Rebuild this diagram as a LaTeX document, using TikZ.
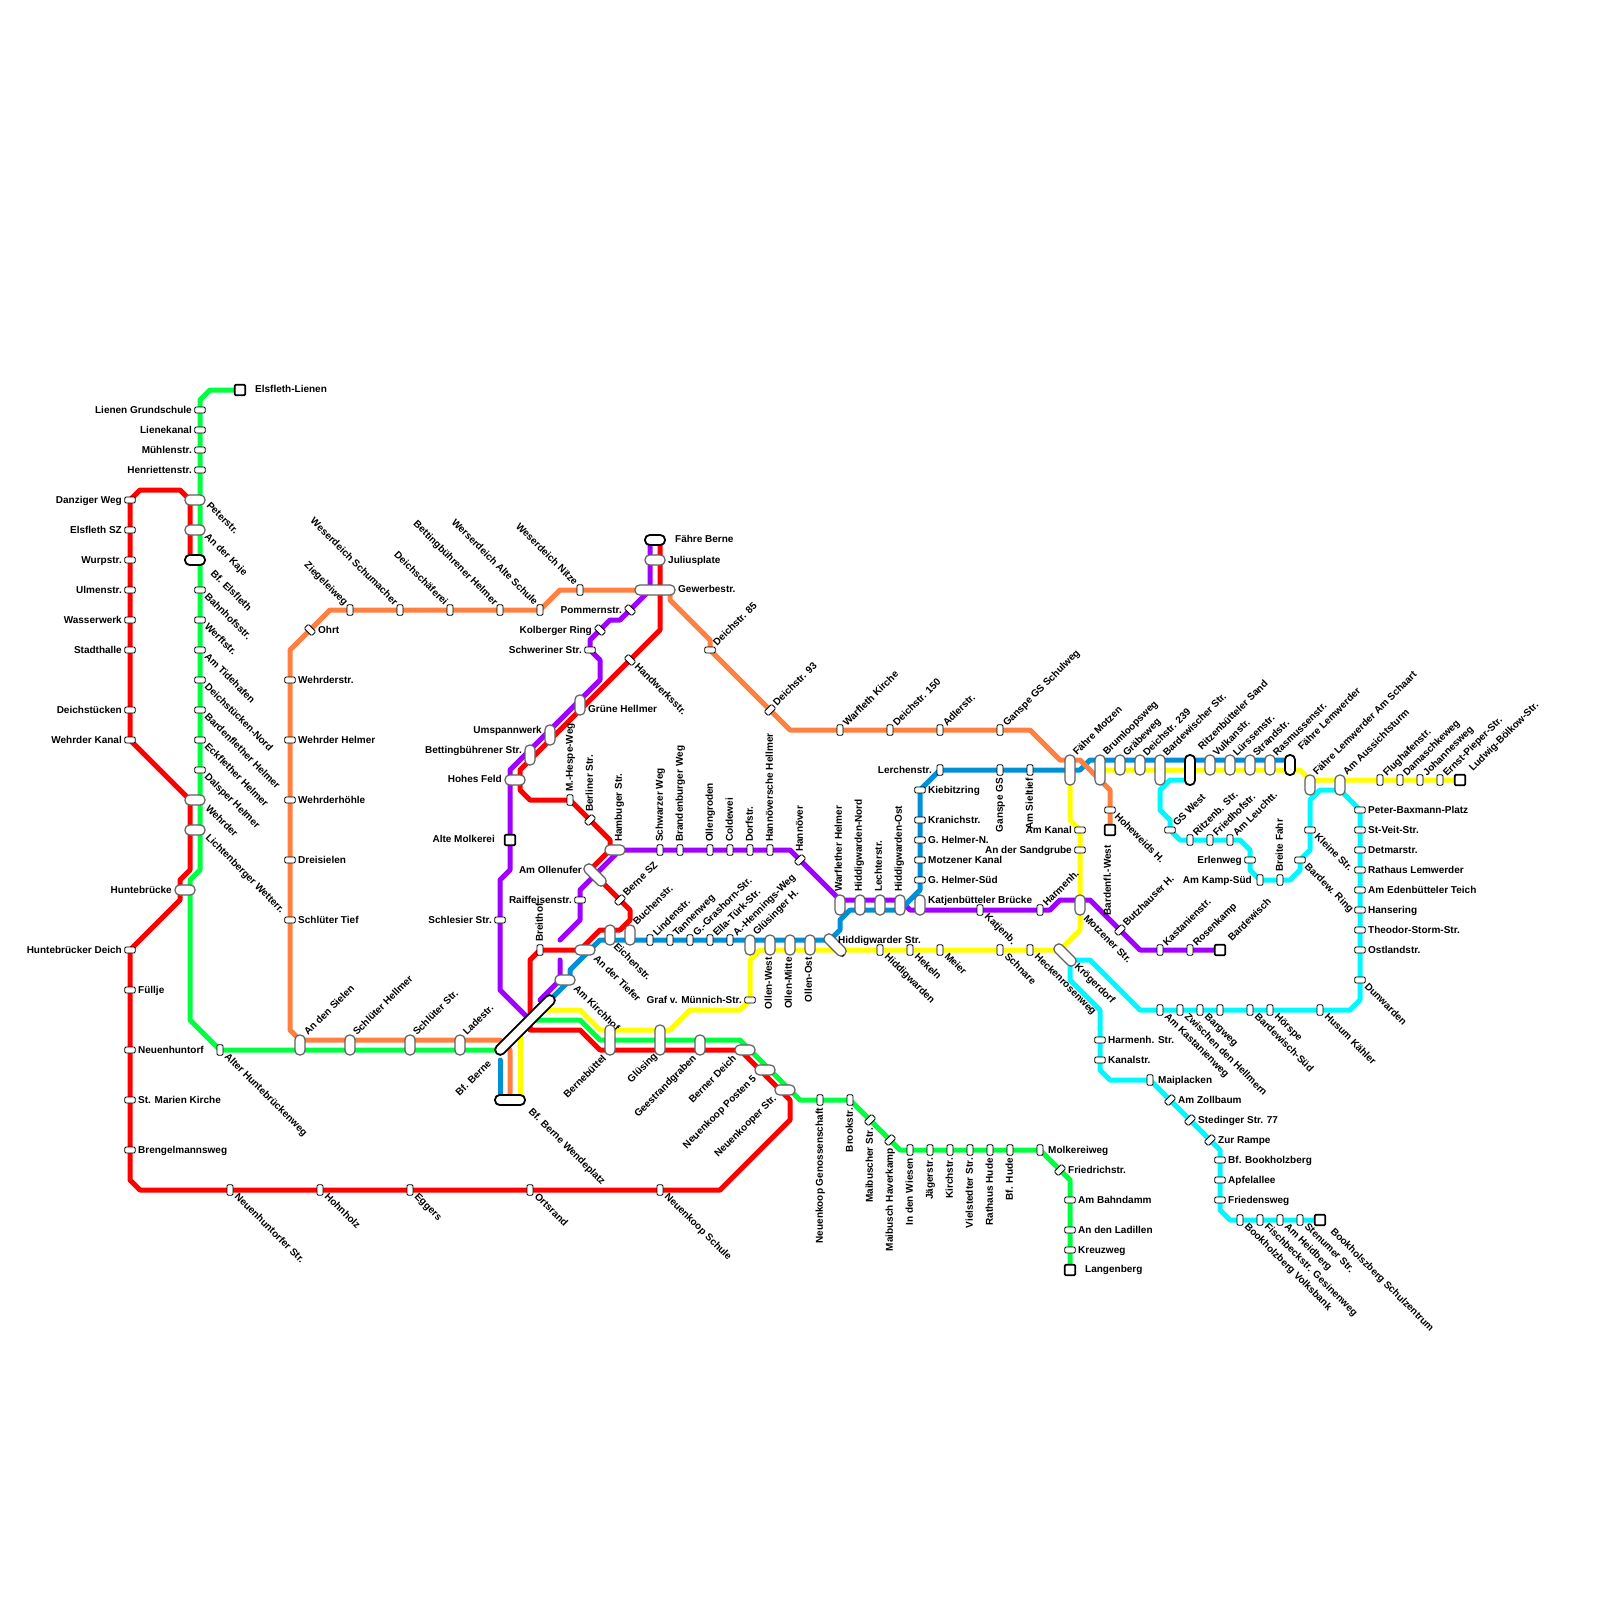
\documentclass[tikz,border=0pt]{standalone}
\usepackage{fontspec}
\setmainfont{Liberation Sans}
\usetikzlibrary{backgrounds}
\definecolor{cRed}{HTML}{FF0000}
\definecolor{cGreen}{HTML}{00FF40}
\definecolor{cOrange}{HTML}{FF8040}
\definecolor{cPurple}{HTML}{A000FF}
\definecolor{cBlue}{HTML}{0090D8}
\definecolor{cYellow}{HTML}{FFFF00}
\definecolor{cCyan}{HTML}{00F8FF}
\definecolor{cEdge}{HTML}{606060}
\tikzset{
  lab/.style={inner sep=0pt,text height=7.5pt,text depth=2pt,text=black,font=\fontsize{10}{12}\selectfont\bfseries},
  lR/.style={lab,shift={(8,0.5)},anchor=west},
  lL/.style={lab,shift={(-8,0.5)},anchor=east},
  lD/.style={lab,shift={(6,5)},anchor=west,rotate=-45},
  lU/.style={lab,shift={(5,-5)},anchor=west,rotate=45},
  lUL/.style={lab,shift={(-4,-6)},anchor=east,rotate=-45},
  lDL/.style={lab,shift={(-5,7)},anchor=east,rotate=45},
  lN/.style={lab,shift={(0,-8)},anchor=west,rotate=90},
  lS/.style={lab,shift={(0,8)},anchor=east,rotate=90},
  sbase/.style={rectangle,fill=white,draw=black,line width=0.9pt,inner sep=0pt,outer sep=0pt},
  hs/.style={sbase,minimum width=10.5pt,minimum height=6pt,rounded corners=1.2pt},
  vs/.style={sbase,minimum width=6pt,minimum height=10.5pt,rounded corners=1.2pt},
  ds/.style={hs,rotate=-45},
  df/.style={hs,rotate=45},
  big/.style={sbase,draw=cEdge,line width=1.2pt,rounded corners=4.6pt},
  bigH/.style={big,minimum width=20pt,minimum height=10pt},
  bigV/.style={big,minimum width=10pt,minimum height=20pt},
  bigVL/.style={big,minimum width=10pt,minimum height=30pt},
  bigD/.style={big,minimum width=27pt,minimum height=10pt,rotate=-45},
  tm/.style={draw=black,line width=1.8pt},
  endsq/.style={sbase,draw=black,line width=1.8pt,minimum width=10.5pt,minimum height=10.5pt,rounded corners=1.2pt},
  route/.style={line width=5pt,line cap=round,line join=round},
}
\newcommand{\st}[7][0,0]{\node[#3] (#2) at (#4,#5) {}; \node[shift={(#1)},#6] (#2-l) at (#4,#5) {#7};}
\begin{document}
\begin{tikzpicture}[x=1pt,y=-1pt]
\useasboundingbox (0,0) rectangle (1600,1600);
% west red
\st{danz}{hs}{130}{500}{lL}{Danziger Weg}
\st{elssz}{hs}{130}{530}{lL}{Elsfleth SZ}
\st{wurp}{hs}{130}{560}{lL}{Wurpstr.}
\st{ulmen}{hs}{130}{590}{lL}{Ulmenstr.}
\st{wasser}{hs}{130}{620}{lL}{Wasserwerk}
\st{stadth}{hs}{130}{650}{lL}{Stadthalle}
\st{deichst}{hs}{130}{710}{lL}{Deichstücken}
\st{wkanal}{hs}{130}{740}{lL}{Wehrder Kanal}
\st{hdeich}{hs}{130}{950}{lL}{Huntebrücker Deich}
\st{fuellje}{hs}{130}{990}{lR}{Füllje}
\st{neuh}{hs}{130}{1050}{lR}{Neuenhuntorf}
\st{marien}{hs}{130}{1100}{lR}{St. Marien Kirche}
\st{breng}{hs}{130}{1150}{lR}{Brengelmannsweg}
\st{neuhs}{vs}{230}{1190}{lD}{Neuenhuntorfer Str.}
\st{hohn}{vs}{320}{1190}{lD}{Hohnholz}
\st{eggers}{vs}{410}{1190}{lD}{Eggers}
\st{ortsr}{vs}{530}{1190}{lD}{Ortsrand}
\st{nkschule}{vs}{660}{1190}{lD}{Neuenkoop Schule}
% west green
\st[7,-1]{elsli}{endsq}{240}{390}{lR}{Elsfleth-Lienen}
\st{lieng}{hs}{200}{410}{lL}{Lienen Grundschule}
\st{lienk}{hs}{200}{430}{lL}{Lienekanal}
\st{muehl}{hs}{200}{450}{lL}{Mühlenstr.}
\st{henr}{hs}{200}{470}{lL}{Henriettenstr.}
\st[7,-1]{peter}{bigH}{195}{500}{lD}{Peterstr.}
\st[5,0]{kaje}{bigH}{195}{530}{lD}{An der Kaje}
\st[11,7]{bfels}{bigH,tm}{195}{560}{lD}{Bf. Elsfleth}
\st{bahnh}{hs}{200}{590}{lD}{Bahnhofsstr.}
\st{werft}{hs}{200}{620}{lD}{Werftstr.}
\st{tideh}{hs}{200}{650}{lD}{Am Tidehafen}
\st{dnord}{hs}{200}{680}{lD}{Deichstücken-Nord}
\st{bardh}{hs}{200}{710}{lD}{Bardenflether Helmer}
\st{eckh}{hs}{200}{740}{lD}{Eckflether Helmer}
\st{dalsp}{hs}{200}{770}{lD}{Dalsper Helmer}
\st[6,2]{wehrder}{bigH}{195}{800}{lD}{Wehrder}
\st[6,1]{lichten}{bigH}{195}{830}{lD}{Lichtenberger Wetterr.}
\st[-5,0]{hunte}{bigH}{185}{890}{lL}{Huntebrücke}
\st{alterh}{vs}{220}{1050}{lD}{Alter Huntebrückenweg}
% orange west
\st{wehrs}{hs}{290}{680}{lR}{Wehrderstr.}
\st{wehrh}{hs}{290}{740}{lR}{Wehrder Helmer}
\st{wehrhoe}{hs}{290}{800}{lR}{Wehrderhöhle}
\st{dreis}{hs}{290}{860}{lR}{Dreisielen}
\st{schltief}{hs}{290}{920}{lR}{Schlüter Tief}
\st{ohrt}{ds}{310}{630}{lR}{Ohrt}
\st{zieg}{vs}{350}{610}{lUL}{Ziegeleiweg}
\st{wschum}{vs}{400}{610}{lUL}{Weserdeich Schumacher}
\st{dschaef}{vs}{450}{610}{lUL}{Deichschäferei}
\st{betthel}{vs}{500}{610}{lUL}{Bettingbührener Helmer}
\st{wealt}{vs}{540}{610}{lUL}{Werserdeich Alte Schule}
\st{wnitze}{vs}{580}{590}{lUL}{Weserdeich Nitze}
\st[1,-6]{sielen}{bigV}{300}{1045}{lU}{An den Sielen}
\st[0,-6]{schlhel}{bigV}{350}{1045}{lU}{Schlüter Hellmer}
\st[0,-6]{schlstr}{bigV}{410}{1045}{lU}{Schlüter Str.}
\st[0,-6]{ladestr}{bigV}{460}{1045}{lU}{Ladestr.}
% Berne hub
\st[-30,30]{bfberne}{big,tm,minimum width=80pt,minimum height=10pt,rotate=45}{525}{1025}{lDL}{Bf. Berne}
\st[14,5]{wende}{bigH,tm,minimum width=30pt}{510}{1100}{lD}{Bf. Berne Wendeplatz}
\coordinate (blueTop) at (500,1060);
\coordinate (yelTop) at (520,1030);
\coordinate (purpA) at (560,940);
\coordinate (purpB) at (560,960);
\coordinate (purpC) at (540,1000);
\coordinate (bbW) at (500,1050);
% north-centre
\st[12,-1]{fberne}{bigH,tm}{655}{540}{lR}{Fähre Berne}
\st[5,0]{julius}{bigH}{655}{560}{lR}{Juliusplate}
\st[15,-1]{gewerbe}{big,minimum width=40pt,minimum height=10pt}{655}{590}{lR}{Gewerbestr.}
\st{pomm}{ds}{630}{610}{lL}{Pommernstr.}
\st{kolb}{ds}{600}{630}{lL}{Kolberger Ring}
\st{schwer}{hs}{590}{650}{lL}{Schweriner Str.}
\st{handw}{ds}{630}{660}{lD}{Handwerksstr.}
\st[0,4]{gruene}{bigV}{580}{705}{lR}{Grüne Hellmer}
\st[0,-5]{umsp}{bigV}{550}{735}{lL}{Umspannwerk}
\st[0,-5]{bettstr}{bigV}{530}{755}{lL}{Bettingbührener Str.}
\st[-5,-1]{hohes}{bigH}{515}{780}{lL}{Hohes Feld}
\st[-7,-1]{altem}{endsq}{510}{840}{lL}{Alte Molkerei}
\st{hespe}{vs}{570}{800}{lN}{M.-Hespe-Weg}
\st{berl}{df}{590}{820}{lN}{Berliner Str.}
\st[4,0]{hamb}{bigH}{615}{850}{lN}{Hambuger Str.}
\st[-5,-5]{olluf}{bigD}{595}{875}{lL}{Am Ollenufer}
\st{bernesz}{df}{620}{900}{lU}{Berne SZ}
\st{raiff}{hs}{580}{900}{lL}{Raiffeisenstr.}
\st{schles}{hs}{500}{920}{lL}{Schlesier Str.}
\st{breith}{vs}{540}{950}{lN}{Breithof}
\st[4,2]{tiefer}{bigH}{585}{950}{lD}{An der Tiefer}
\st[4,2]{kirchh}{bigH}{565}{980}{lD}{Am Kirchhof}
\st[-1,5]{eichen}{bigV}{610}{935}{lD}{Eichenstr.}
\st[0,-6]{buchen}{bigV}{630}{935}{lU}{Buchenstr.}
\st{linden}{vs}{650}{940}{lU}{Lindenstr.}
\st{tannen}{vs}{670}{940}{lU}{Tannenweg}
\st{grash}{vs}{690}{940}{lU}{G.-Grashorn-Str.}
\st{ella}{vs}{710}{940}{lU}{Ella-Türk-Str.}
\st{henn}{vs}{730}{940}{lU}{A.-Hennings-Weg}
\st[0,-6]{gluesh}{bigV}{750}{945}{lU}{Glüsinger H.}
\st[-1,4]{ollw}{bigV}{770}{945}{lS}{Ollen-West}
\st[-1,4]{ollm}{bigV}{790}{945}{lS}{Ollen-Mitte}
\st[-1,4]{ollo}{bigV}{810}{945}{lS}{Ollen-Ost}
\st[-5,-5]{hiddstr}{bigD}{835}{945}{lR}{Hiddigwarder Str.}
\node[lab,rotate=-45] (komma) at (845,955) {,};
\st{gmuenn}{hs}{750}{1000}{lL}{Graf v. Münnich-Str.}
\st[0,10]{bernb}{bigVL}{610}{1040}{lDL}{Bernebüttel}
\st[1,8]{gluesing}{bigVL}{660}{1040}{lDL}{Glüsing}
\st[0,5]{geest}{bigV}{700}{1045}{lDL}{Geestrandgraben}
\st[-5,0]{bdeich}{bigH}{745}{1050}{lDL}{Berner Deich}
\st[-5,0]{posten}{bigH}{765}{1070}{lDL}{Neuenkoop Posten 5}
\st[-5,0]{nkstr}{bigH}{785}{1090}{lDL}{Neuenkooper Str.}
% purple east row
\st{schwarz}{vs}{660}{850}{lN}{Schwarzer Weg}
\st{brand}{vs}{680}{850}{lN}{Brandenburger Weg}
\st{ollgr}{vs}{710}{850}{lN}{Ollengroden}
\st{cold}{vs}{730}{850}{lN}{Coldewei}
\st{dorf}{vs}{750}{850}{lN}{Dorfstr.}
\st{hannh}{vs}{770}{850}{lN}{Hannöversche Hellmer}
\st{hann}{df}{800}{860}{lN}{Hannöver}
\st[-1,-5]{warfh}{bigV}{840}{905}{lN}{Warflether Helmer}
\st[-1,-5]{hnord}{bigV}{860}{905}{lN}{Hiddigwarden-Nord}
\st[-1,-5]{lecht}{bigV}{880}{905}{lN}{Lechterstr.}
\st[-1,-5]{host}{bigV}{900}{905}{lN}{Hiddigwarden-Ost}
\st[0,-5]{katjb}{bigV}{920}{905}{lR}{Katjenbütteler Brücke}
\st{katj}{vs}{980}{910}{lD}{Katjenb.}
\st{harmh}{vs}{1040}{910}{lU}{Harmenh.}
\st[-1,7]{motz}{bigV}{1080}{905}{lD}{Motzener Str.}
\st{butz}{df}{1120}{930}{lU}{Butzhauser H.}
\st{kast}{vs}{1160}{950}{lU}{Kastanienstr.}
\st{rosen}{vs}{1190}{950}{lU}{Rosenkamp}
\st[5,-5]{bardew}{endsq}{1220}{950}{lU}{Bardewisch}
% yellow row
\st{hidd}{vs}{880}{950}{lD}{Hiddigwarden}
\st{hekeln}{vs}{910}{950}{lD}{Hekeln}
\st{meier}{vs}{940}{950}{lD}{Meier}
\st{schnare}{vs}{1000}{950}{lD}{Schnare}
\st{hecken}{vs}{1030}{950}{lD}{Heckenrosenweg}
\st[5,5]{kroeg}{bigD}{1065}{955}{lD}{Krögerdorf}
\st{amkanal}{hs}{1080}{830}{lL}{Am Kanal}
\st{sandgr}{hs}{1080}{850}{lL}{An der Sandgrube}
% blue column
\st{kiebitz}{hs}{920}{790}{lR}{Kiebitzring}
\st{kranich}{hs}{920}{820}{lR}{Kranichstr.}
\st{ghn}{hs}{920}{840}{lR}{G. Helmer-N.}
\st{motzk}{hs}{920}{860}{lR}{Motzener Kanal}
\st{ghs}{hs}{920}{880}{lR}{G. Helmer-Süd}
\st{lerchen}{vs}{940}{770}{lL}{Lerchenstr.}
\st{ganspegs}{vs}{1000}{770}{lS}{Ganspe GS}
\st{sieltief}{vs}{1030}{770}{lS}{Am Sieltief}
% orange north-east
\st{deich85}{hs}{710}{650}{lU}{Deichstr. 85}
\st{deich93}{df}{770}{710}{lU}{Deichstr. 93}
\st{warfk}{vs}{840}{730}{lU}{Warfleth Kirche}
\st{deich150}{vs}{890}{730}{lU}{Deichstr. 150}
\st{adler}{vs}{940}{730}{lU}{Adlerstr.}
\st{gschul}{vs}{1000}{730}{lU}{Ganspe GS Schulweg}
\st{hoheh}{hs}{1110}{810}{lD}{Hoheweids H.}
\st[-2,7]{bardw}{endsq}{1110}{830}{lS}{Bardenfl.-West}
% top row east
\st[0,-11]{fmotzen}{bigVL}{1070}{770}{lU}{Fähre Motzen}
\st[0,-11]{brum}{bigVL}{1100}{770}{lU}{Brumloopsweg}
\st[0,-5]{graebe}{bigV}{1120}{765}{lU}{Gräbeweg}
\st[0,-5]{d239}{bigV}{1140}{765}{lU}{Deichstr. 239}
\st[0,-10]{bardstr}{bigVL}{1160}{770}{lU}{Bardewischer Str.}
\st[5,-16]{rsand}{bigVL,tm}{1190}{770}{lU}{Ritzenbütteler Sand}
\st[0,-5]{vulk}{bigV}{1210}{765}{lU}{Vulkanstr.}
\st[0,-5]{luerss}{bigV}{1230}{765}{lU}{Lürssenstr.}
\st[0,-5]{strand}{bigV}{1250}{765}{lU}{Strandstr.}
\st[0,-5]{rasm}{bigV}{1270}{765}{lU}{Rasmussenstr.}
\st[5,-11]{flem}{bigV,tm}{1290}{765}{lU}{Fähre Lemwerder}
\st[0,-6]{flems}{bigV}{1310}{785}{lU}{Fähre Lemwerder Am Schaart}
\st[0,-6]{aussicht}{bigV}{1340}{785}{lU}{Am Aussichtsturm}
\st{flug}{vs}{1380}{780}{lU}{Flughafenstr.}
\st{damasch}{vs}{1400}{780}{lU}{Damaschkeweg}
\st{johann}{vs}{1420}{780}{lU}{Johannesweg}
\st{ernst}{vs}{1440}{780}{lU}{Ernst-Pieper-Str.}
\st[6,-5]{ludwig}{endsq}{1460}{780}{lU}{Ludwig-Bölkow-Str.}
% cyan
\st{gswest}{hs}{1170}{830}{lU}{GS West}
\st{ritzb}{vs}{1190}{840}{lU}{Ritzenb. Str.}
\st{friedh}{vs}{1210}{840}{lU}{Friedhofstr.}
\st{leucht}{vs}{1230}{840}{lU}{Am Leuchtt.}
\st{erlen}{hs}{1250}{860}{lL}{Erlenweg}
\st{kamps}{vs}{1260}{880}{lL}{Am Kamp-Süd}
\st{breite}{vs}{1280}{880}{lN}{Breite Fahr}
\st{bring}{hs}{1300}{860}{lD}{Bardew. Ring}
\st{kleine}{hs}{1310}{830}{lD}{Kleine Str.}
\st{peterb}{hs}{1360}{810}{lR}{Peter-Baxmann-Platz}
\st{stveit}{hs}{1360}{830}{lR}{St-Veit-Str.}
\st{detm}{hs}{1360}{850}{lR}{Detmarstr.}
\st{rathl}{hs}{1360}{870}{lR}{Rathaus Lemwerder}
\st{edenb}{hs}{1360}{890}{lR}{Am Edenbütteler Teich}
\st{hanse}{hs}{1360}{910}{lR}{Hansering}
\st{theod}{hs}{1360}{930}{lR}{Theodor-Storm-Str.}
\st{ostl}{hs}{1360}{950}{lR}{Ostlandstr.}
\st{dunw}{hs}{1360}{980}{lD}{Dunwarden}
\st{husum}{vs}{1320}{1010}{lD}{Husum Kähler}
\st{hoersp}{vs}{1270}{1010}{lD}{Hörspe}
\st{bardsued}{vs}{1250}{1010}{lD}{Bardewisch-Süd}
\node[vs] (noname) at (1220,1010) {};
\st{bargw}{vs}{1200}{1010}{lD}{Bargweg}
\st{zwisch}{vs}{1180}{1010}{lD}{Zwischen den Hellmern}
\st{amkast}{vs}{1160}{1010}{lD}{Am Kastanienweg}
\st{harmstr}{hs}{1100}{1040}{lR}{Harmenh. Str.}
\st{kanals}{hs}{1100}{1060}{lR}{Kanalstr.}
\st{maipl}{vs}{1150}{1080}{lR}{Maiplacken}
\st{zollb}{df}{1170}{1100}{lR}{Am Zollbaum}
\st{sted}{df}{1190}{1120}{lR}{Stedinger Str. 77}
\st{rampe}{df}{1210}{1140}{lR}{Zur Rampe}
\st{bfbook}{hs}{1220}{1160}{lR}{Bf. Bookholzberg}
\st{apfel}{hs}{1220}{1180}{lR}{Apfelallee}
\st{friedw}{hs}{1220}{1200}{lR}{Friedensweg}
\st{bookv}{vs}{1240}{1220}{lD}{Bookholzberg Volksbank}
\st{fisch}{vs}{1260}{1220}{lD}{Fischbeckstr. Gesinenweg}
\st{heidb}{vs}{1280}{1220}{lD}{Am Heidberg}
\st{stenum}{vs}{1300}{1220}{lD}{Stenumer Str.}
\st[6,5]{bschul}{endsq}{1320}{1220}{lD}{Bookholszberg Schulzentrum}
% green south-east
\st{nkgen}{vs}{820}{1100}{lS}{Neuenkoop Genossenschaft}
\st{brook}{vs}{850}{1100}{lS}{Brookstr.}
\st{maib}{df}{870}{1120}{lS}{Maibuscher Str.}
\st{maih}{df}{890}{1140}{lS}{Maibusch Haverkamp}
\st{wiesen}{vs}{910}{1150}{lS}{In den Wiesen}
\st{jaeger}{vs}{930}{1150}{lS}{Jägerstr.}
\st{kirch}{vs}{950}{1150}{lS}{Kirchstr.}
\st{viel}{vs}{970}{1150}{lS}{Vielstedter Str.}
\st{rathh}{vs}{990}{1150}{lS}{Rathaus Hude}
\st{bfhude}{vs}{1010}{1150}{lS}{Bf. Hude}
\st{molk}{vs}{1040}{1150}{lR}{Molkereiweg}
\st{friedr}{df}{1060}{1170}{lR}{Friedrichstr.}
\st{bahnd}{hs}{1070}{1200}{lR}{Am Bahndamm}
\st{ladill}{hs}{1070}{1230}{lR}{An den Ladillen}
\st{kreuz}{hs}{1070}{1250}{lR}{Kreuzweg}
\st[7,-1]{lang}{endsq}{1070}{1270}{lR}{Langenberg}
% routes
\begin{scope}[on background layer]
\fill[white] (0,0) rectangle (1600,1600);
% cyan
\draw[route,cCyan] ([yshift=-10pt]rsand.center) -- (1170,780) -- (1160,790) -- (1160,810) -- (1170,820) -- (1170,830) -- (1180,840) -- (1240,840) -- (1250,850) -- (1250,870) -- (1260,880) -- (1290,880) -- (1300,870) -- (1300,860) -- (1310,850) -- (1310,800) -- (1320,790) -- (1340,790) -- (1360,810) -- (1360,1000) -- (1350,1010) -- (1140,1010) -- (1090,960) -- (1070,960) -- (1070,980) -- (1100,1010) -- (1100,1070) -- (1110,1080) -- (1150,1080) -- (1220,1150) -- (1220,1210) -- (1230,1220) -- (bschul.center);
% yellow
\draw[route,cYellow] ([xshift=10pt]wende.center) -- (yelTop);
\draw[route,cYellow] (bfberne.center) -- (540,1010) -- (580,1010) -- (600,1030) -- (670,1030) -- (690,1010) -- (740,1010) -- (750,1000) -- (750,960) -- (760,950) -- (1060,950) -- (1080,930) -- (1080,830) -- (1070,820) -- (fmotzen.center);
\draw[route,cYellow] (brum.center) -- (1300,770) -- (1310,780) -- (ludwig.center);
% purple
\draw[route,cPurple] (bardew.center) -- (1140,950) -- (1090,900) -- (1060,900) -- (1050,910) -- (910,910) -- (900,900) -- (840,900) -- (790,850) -- (620,850) -- (580,890) -- (580,920) -- (purpA);
\draw[route,cPurple] (purpB) -- (560,980) -- (purpC);
\draw[route,cPurple] ([xshift=-5pt]fberne.center) -- (650,590) -- (620,620) -- (610,620) -- (590,640) -- (590,650) -- (600,660) -- (600,680) -- (510,770) -- (510,870) -- (500,880) -- (500,990) -- (530,1020) -- (bfberne.center);
% blue
\draw[route,cBlue] ([xshift=-10pt]wende.center) -- (blueTop);
\draw[route,cBlue] (bfberne.center) -- (570,980) -- (570,970) -- (600,940) -- (830,940) -- (840,930) -- (840,920) -- (850,910) -- (900,910) -- (920,890) -- (920,790) -- (lerchen.center) -- (1080,770) -- (1090,760) -- ([yshift=5pt]flem.center);
% green
\draw[route,cGreen] (elsli.center) -- (210,390) -- (200,400) -- (200,870) -- (190,880) -- (190,1020) -- (alterh.center) -- (bbW);
\draw[route,cGreen] (bfberne.center) -- (530,1020) -- (580,1020) -- (600,1040) -- (740,1040) -- (800,1100) -- (850,1100) -- (900,1150) -- (1040,1150) -- (1070,1180) -- (lang.center);
% red
\draw[route,cRed] (danz.center) -- (140,490) -- (180,490) -- (190,500) -- ([xshift=-5pt]bfels.center);
\draw[route,cRed] (danz.center) -- (wkanal.center) -- (190,800) -- (190,870) -- (180,880) -- (180,900) -- (hdeich.center) -- (130,1180) -- (140,1190) -- (720,1190) -- (790,1120) -- (790,1100) -- (740,1050) -- (600,1050) -- (580,1030) -- (530,1030) -- (530,960) -- (540,950) -- (580,950) -- (600,930) -- (620,930) -- (630,920) -- (630,910) -- (590,870) -- (610,850) -- (610,840) -- (570,800) -- (530,800) -- (520,790) -- (520,770) -- (660,630) -- ([xshift=5pt]fberne.center);
% orange
\draw[route,cOrange] (wende.center) -- (510,1050) -- (500,1040) -- (300,1040) -- (290,1030) -- (290,650) -- (330,610) -- (540,610) -- (560,590) -- (gewerbe.center);
\draw[route,cOrange] (gewerbe.center) -- (670,590) -- (670,600) -- (710,640) -- (710,650) -- (770,710) -- (790,730) -- (1030,730) -- (1060,760) -- (1080,760) -- (1110,790) -- (bardw.center);
\end{scope}
\end{tikzpicture}
\end{document}
